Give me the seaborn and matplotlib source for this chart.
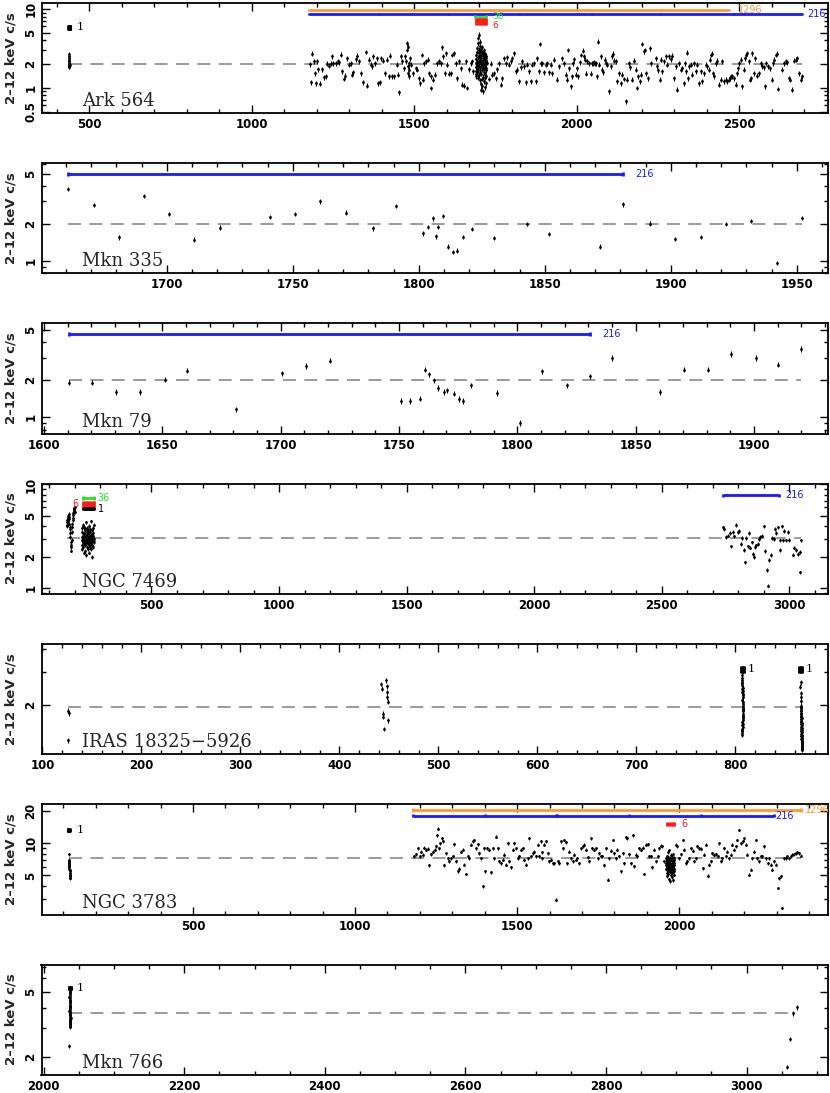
import numpy as np
import matplotlib
matplotlib.use("Agg")
import matplotlib.pyplot as plt
import matplotlib.ticker as mticker
import seaborn as sns

# ---------------------------------------------------------------
# Light-curve values (days, 2-12 keV counts/s)
# ---------------------------------------------------------------

# Ark 564
ark_stack_t = [437.5, 437.7, 437.9, 438.0, 438.2, 438.3, 438.5, 438.6, 438.8, 439.0, 439.1, 439.3]
ark_stack_r = [1.85, 1.90, 1.95, 2.00, 2.08, 2.19, 2.25, 2.38, 2.52, 2.67, 1.88, 1.97]
ark_a_t = [1178, 1182, 1184, 1192, 1194, 1197, 1202, 1204, 1210, 1217,
           1223, 1228, 1233, 1238, 1243, 1248, 1251, 1258, 1264, 1269,
           1274, 1279, 1284, 1286, 1292, 1300, 1305, 1310, 1313, 1320,
           1325, 1330, 1337, 1342, 1351, 1356, 1361, 1366, 1369, 1374,
           1378, 1385, 1389, 1395, 1397, 1405, 1409, 1415, 1423, 1426,
           1433, 1438, 1446, 1450, 1453, 1458, 1464, 1469, 1471, 1474,
           1477, 1479, 1481, 1479.5, 1480, 1484, 1484.5, 1485, 1487, 1489,
           1497, 1505, 1510, 1515, 1518, 1525, 1528, 1530, 1535, 1541,
           1546, 1551, 1553, 1559, 1563, 1571, 1576, 1582, 1587, 1590,
           1594, 1597, 1602, 1607, 1612, 1617, 1623, 1628, 1633, 1638,
           1643, 1648, 1653, 1658, 1664, 1669, 1674, 1679, 1682]
ark_a_r = [1.99, 1.18, 2.70, 2.16, 1.54, 1.15, 2.16, 1.73, 1.13, 1.73,
           1.37, 1.40, 2.02, 1.91, 2.02, 2.50, 2.06, 2.06, 2.16, 2.12,
           2.64, 1.62, 1.30, 1.43, 2.38, 1.96, 2.06, 1.47, 1.57, 2.31,
           2.55, 2.16, 1.54, 1.18, 2.86, 1.07, 2.27, 1.96, 1.87, 2.50,
           2.06, 2.38, 1.15, 1.18, 2.38, 2.22, 1.54, 2.27, 1.40, 2.55,
           1.40, 1.40, 1.96, 1.47, 0.88, 2.50, 2.16, 1.78, 2.50, 2.16,
           3.03, 3.67, 3.33, 1.87, 1.54, 2.06, 1.70, 1.40, 2.38, 1.96,
           1.54, 1.78, 1.70, 1.33, 1.15, 2.62, 1.27, 2.06, 2.16, 2.27,
           1.54, 1.40, 1.00, 1.27, 1.47, 2.06, 2.16, 2.06, 3.27, 2.50,
           1.54, 2.75, 1.96, 1.51, 1.54, 2.62, 2.75, 2.06, 1.33, 2.16,
           1.78, 1.10, 1.07, 2.16, 1.00, 1.73, 2.06, 2.16, 1.62]
ark_clu_t = [1689.2, 1689.6, 1690.0, 1690.4, 1690.9, 1691.3, 1691.7, 1692.1, 1692.6, 1693.0,
             1693.4, 1693.8, 1694.3, 1694.7, 1695.1, 1695.5, 1696.0, 1696.4, 1696.8, 1697.2,
             1697.7, 1698.1, 1698.5, 1698.9, 1699.4, 1699.8, 1700.2, 1700.6, 1701.1, 1701.5,
             1701.9, 1702.3, 1702.8, 1703.2, 1703.6, 1704.0, 1704.5, 1704.9, 1705.3, 1705.7,
             1706.2, 1706.6, 1707.0, 1707.4, 1707.9, 1708.3, 1708.7, 1709.1, 1709.6, 1710.0,
             1710.4, 1710.8, 1711.3, 1711.7, 1712.1, 1712.5, 1713.0, 1713.4, 1713.8, 1714.2,
             1714.7, 1715.1, 1715.5, 1715.9, 1716.4, 1716.8, 1717.2, 1717.6, 1718.1, 1718.5,
             1718.9, 1719.3, 1719.8, 1720.2, 1720.6, 1721.0, 1721.5, 1721.9, 1722.3, 1722.7]
ark_clu_r = [1.62, 2.05, 1.48, 2.31, 1.85, 2.62, 1.40, 1.95, 2.20, 1.72,
             2.85, 1.55, 2.10, 3.20, 1.88, 2.45, 1.35, 3.65, 2.02, 1.68,
             4.30, 2.55, 1.90, 3.05, 1.45, 2.75, 4.70, 2.15, 1.60, 3.40,
             2.38, 1.25, 2.90, 1.78, 3.85, 2.20, 1.12, 2.60, 1.98, 3.10,
             1.50, 2.42, 0.95, 2.12, 1.70, 2.85, 1.30, 3.30, 2.05, 1.05,
             2.50, 1.82, 2.70, 1.38, 2.25, 0.90, 1.95, 2.58, 1.58, 3.00,
             1.22, 2.35, 1.75, 2.80, 1.48, 2.15, 1.02, 2.48, 1.88, 2.65,
             1.35, 2.00, 1.68, 2.40, 1.15, 2.22, 1.80, 2.55, 1.42, 2.08]
ark_b_t = [1730, 1735, 1741, 1746, 1751, 1756, 1761, 1766, 1771, 1776,
           1782, 1787, 1792, 1797, 1802, 1807, 1812, 1817, 1823, 1828,
           1833, 1838, 1843, 1848, 1853, 1858, 1864, 1869, 1874, 1879,
           1884, 1887, 1889, 1894, 1900, 1905, 1910, 1915, 1920, 1925,
           1930, 1941, 1946]
ark_b_r = [1.30, 2.02, 1.47, 1.54, 1.33, 1.73, 2.06, 1.10, 1.33, 2.38,
           2.06, 2.45, 1.96, 2.16, 2.38, 2.75, 1.62, 1.70, 1.21, 1.83,
           2.16, 1.87, 1.18, 1.96, 1.62, 1.21, 1.96, 2.06, 1.21, 2.38,
           1.62, 3.60, 2.06, 2.06, 1.57, 1.96, 2.06, 1.57, 1.96, 1.54,
           2.27, 1.27, 1.87]
ark_c_t = [1956, 1961, 1966, 1971, 1974, 1976, 1982, 1985, 1989, 1992,
           1997, 2002, 2005, 2009, 2012, 2018, 2023, 2026, 2030, 2033,
           2038, 2043, 2046, 2050, 2053, 2056, 2059, 2064, 2067, 2069,
           2074, 2077, 2081, 2087, 2091, 2094, 2100, 2105, 2110, 2112,
           2115, 2120, 2125, 2130, 2135, 2141, 2146, 2151, 2156, 2161,
           2163, 2169, 2176, 2182, 2187, 2190, 2194, 2197, 2202, 2207,
           2210, 2214, 2221, 2225, 2228, 2243, 2248, 2251, 2255, 2259,
           2264, 2269, 2274, 2279, 2284, 2289, 2294, 2300, 2305, 2310,
           2315, 2320, 2325, 2330, 2333, 2337, 2341, 2344, 2346, 2351,
           2356, 2361, 2366, 2371, 2376, 2382, 2387, 2392, 2397, 2402,
           2407, 2409, 2412, 2415, 2420, 2423, 2428, 2433, 2438, 2443,
           2448, 2453, 2459, 2464, 2469, 2471, 2474, 2479, 2484, 2489,
           2494, 2497, 2499, 2505, 2510, 2515, 2518, 2522, 2525, 2530,
           2535, 2538, 2540, 2545, 2548, 2556, 2561, 2566, 2571, 2576,
           2580, 2584, 2590, 2594, 2600, 2604, 2608, 2612, 2617, 2620,
           2633, 2638, 2643, 2648, 2653, 2658, 2664, 2669, 2674, 2679,
           2684, 2689, 2694]
ark_c_r = [2.38, 2.06, 1.47, 1.27, 3.03, 1.78, 1.05, 1.40, 2.06, 2.31,
           1.47, 1.78, 1.40, 2.10, 2.62, 2.97, 2.50, 2.27, 1.51, 2.16,
           2.06, 1.51, 2.06, 2.06, 2.10, 2.02, 2.06, 1.40, 3.86, 1.96,
           2.50, 1.70, 1.57, 2.27, 2.06, 1.96, 0.91, 1.87, 2.50, 2.70,
           2.22, 2.16, 1.21, 1.54, 1.15, 1.47, 1.30, 0.68, 1.27, 2.06,
           1.83, 1.27, 2.22, 1.70, 1.00, 1.40, 1.21, 1.47, 3.60, 2.89,
           3.03, 1.54, 1.33, 3.18, 2.06, 2.38, 1.87, 1.66, 1.27, 2.27,
           1.62, 2.16, 2.50, 1.96, 2.50, 2.31, 2.55, 1.33, 1.87, 0.95,
           2.06, 1.70, 1.78, 1.15, 2.06, 1.62, 2.80, 1.33, 1.87, 1.96,
           1.47, 2.06, 1.62, 1.96, 1.15, 1.62, 1.21, 1.54, 1.96, 1.87,
           1.70, 2.27, 2.62, 2.70, 1.54, 1.40, 2.06, 2.22, 1.10, 1.27,
           2.16, 1.21, 1.27, 1.21, 1.27, 1.33, 1.40, 1.40, 1.33, 1.10,
           1.54, 1.78, 2.06, 2.27, 1.05, 1.70, 2.38, 2.62, 2.75, 2.16,
           1.27, 1.33, 2.75, 1.54, 2.38, 1.43, 1.54, 2.06, 1.87, 1.83,
           1.05, 2.06, 1.87, 1.78, 1.27, 2.06, 2.27, 2.62, 2.70, 0.97,
           1.70, 2.06, 2.16, 2.10, 1.33, 1.27, 0.95, 2.22, 2.27, 2.38,
           1.54, 1.27, 1.40]

# Mkn 335
mkn335_t = [1661, 1671, 1681, 1691, 1701, 1711, 1721, 1741, 1751, 1761,
            1771, 1782, 1791, 1801.5, 1803.6, 1805.7, 1807, 1807.6, 1809.5, 1811.6,
            1813.7, 1815, 1817.6, 1821, 1830, 1843, 1851.7, 1871.8, 1881, 1891.6,
            1901.7, 1912, 1922, 1932, 1942, 1952]
mkn335_r = [3.77, 2.82, 1.55, 3.34, 2.38, 1.49, 1.86, 2.25, 2.38, 3.00,
            2.45, 1.83, 2.75, 1.67, 1.87, 2.20, 1.58, 1.87, 2.30, 1.31,
            1.19, 1.22, 1.56, 1.81, 1.53, 1.99, 1.66, 1.31, 2.85, 2.00,
            1.50, 1.56, 1.99, 2.11, 0.97, 2.23]

# Mkn 79
mkn79_t = [1610.7, 1620.3, 1630.4, 1640.4, 1651.0, 1660.5, 1681.0, 1700.5, 1710.8, 1720.8,
           1751.0, 1754.8, 1758.8, 1761.0, 1762.6, 1764.8, 1766.6, 1768.9, 1770.4, 1773.1,
           1775.5, 1777.1, 1780.5, 1791.5, 1801.0, 1810.6, 1821.0, 1830.7, 1840.0, 1860.4,
           1870.3, 1880.5, 1890.2, 1900.6, 1910.0, 1920.0]
mkn79_r = [1.89, 1.89, 1.59, 1.59, 2.00, 2.36, 1.16, 2.24, 2.56, 2.83,
           1.35, 1.35, 1.41, 2.40, 2.20, 1.97, 1.72, 1.59, 1.64, 1.55,
           1.40, 1.35, 1.80, 1.56, 0.90, 2.33, 1.80, 2.13, 2.97, 1.60,
           2.40, 2.40, 3.20, 2.97, 2.63, 3.50]

# NGC 7469
n7469_a_t = [167, 168, 169, 170, 171, 172, 173, 174, 175, 176,
             177, 178, 179, 180, 181, 182, 183, 184, 185, 186,
             187, 188, 189, 190, 191, 192, 193, 194, 195, 196,
             197, 198, 199, 200]
n7469_a_r = [4.1, 4.3, 4.0, 4.5, 4.8, 4.4, 5.0, 4.7, 5.2, 4.9,
             4.6, 4.2, 3.9, 3.7, 3.4, 3.1, 2.8, 2.6, 2.3, 2.5,
             2.9, 3.5, 3.9, 4.2, 4.5, 4.8, 5.1, 5.3, 5.5, 5.6,
             5.8, 5.9, 6.0, 5.4]
n7469_b_t = [226.0, 226.6, 227.5, 228.1, 228.9, 229.4, 230.2, 231.0, 231.6, 232.2,
             233.1, 233.7, 234.3, 235.2, 235.8, 236.4, 237.3, 237.9, 238.5, 239.4,
             240.0, 240.8, 241.3, 242.2, 242.8, 243.6, 244.1, 245.0, 245.7, 246.2,
             247.1, 247.6, 248.5, 249.0, 249.9, 250.4, 251.3, 251.8, 252.7, 253.2,
             254.1, 254.6, 255.5, 256.0, 256.9, 257.4, 258.3, 258.8, 259.7, 260.2,
             261.1, 261.6, 262.5, 263.0, 263.9, 264.4, 265.3, 265.8, 266.7, 267.2,
             268.1, 268.6, 269.5, 270.0, 270.9, 271.4, 272.3, 272.8, 273.7, 274.2]
n7469_b_r = [3.1, 2.6, 3.5, 2.9, 3.8, 2.4, 3.2, 2.8, 4.1, 3.0,
             2.5, 3.4, 2.7, 3.9, 2.2, 3.3, 2.9, 3.6, 2.6, 3.1,
             2.3, 3.7, 2.8, 3.2, 4.3, 2.7, 3.0, 2.1, 3.5, 2.9,
             3.3, 2.5, 3.8, 2.8, 3.1, 2.4, 3.6, 3.0, 2.7, 4.0,
             2.6, 3.2, 2.9, 3.4, 2.2, 3.7, 2.8, 3.1, 2.5, 3.5,
             3.0, 2.7, 4.4, 2.9, 3.2, 2.4, 3.6, 2.8, 3.3, 2.0,
             3.1, 2.6, 3.8, 2.9, 3.4, 2.5, 3.2, 4.1, 2.8, 3.0]
n7469_c_t = [2739, 2745, 2751, 2758, 2765, 2771, 2778, 2784, 2791, 2797,
             2804, 2810, 2814, 2821, 2826, 2831, 2836, 2843, 2847, 2852,
             2856, 2860, 2865, 2869, 2876, 2882, 2886, 2891, 2899, 2904,
             2910, 2915, 2921, 2928, 2930, 2938, 2943, 2948, 2954, 2961,
             2964, 2970, 2975, 2980, 2987, 2993, 2999, 3013, 3019, 3027,
             3035, 3040, 3041, 3045]
n7469_c_r = [3.86, 3.72, 3.10, 3.22, 3.39, 2.53, 3.47, 3.15, 4.09, 3.47,
             3.55, 2.68, 3.06, 2.32, 1.77, 3.06, 2.53, 3.39, 2.46, 2.76,
             2.15, 2.00, 2.49, 2.58, 2.68, 2.95, 3.10, 3.22, 3.95, 2.28,
             1.49, 1.06, 1.86, 2.08, 3.06, 3.00, 3.72, 3.39, 3.86, 2.89,
             2.35, 3.95, 2.89, 3.55, 2.89, 3.47, 2.93, 2.11, 2.46, 2.32,
             2.15, 1.42, 2.23, 2.89]

# IRAS 18325-5926
iras_a_t = [126.0, 126.3, 126.2, 441.5, 442.5, 443.5, 444.0, 445.0, 447.5, 448.0,
            448.2, 448.5, 448.8, 449.0]
iras_a_r = [1.86, 1.80, 1.29, 2.59, 2.44, 1.79, 1.72, 1.48, 2.71, 2.51,
            2.34, 2.19, 2.08, 1.65]
iras_b_t = [806.6, 806.9, 806.4, 807.1, 806.7, 807.3, 807.0, 807.4, 806.8, 807.5,
            807.2, 807.6, 807.1, 807.7, 807.4, 807.8, 807.5, 807.6, 807.3, 807.7,
            807.4, 807.8, 807.5, 807.2, 807.4, 807.1, 807.3, 807.0, 807.2, 806.9,
            807.1, 806.8, 807.0, 806.7, 806.9]
iras_b_r = [2.88, 2.80, 2.71, 2.62, 2.55, 2.47, 2.44, 2.38, 2.33, 2.29,
            2.25, 2.20, 2.11, 2.06, 2.02, 1.97, 1.93, 1.90, 1.87, 1.84,
            1.79, 1.75, 1.71, 1.69, 1.66, 1.61, 1.58, 1.56, 1.52, 1.48,
            1.46, 1.44, 1.41, 1.38, 2.66]
iras_c_t = [866.0, 865.7, 866.1, 865.8, 866.3, 865.9, 866.4, 866.1, 866.5, 866.2,
            866.6, 866.3, 866.7, 866.4, 866.8, 866.5, 866.7, 866.4, 866.8, 866.5,
            866.9, 866.6, 866.8, 866.5, 866.9, 866.7, 867.0, 866.6, 866.9, 866.7,
            867.0, 866.8, 867.1, 866.7, 867.0, 866.8, 867.1, 866.9, 867.2, 867.0,
            866.8, 867.1, 866.9, 867.2, 867.0]
iras_c_r = [2.65, 2.50, 2.31, 2.20, 2.10, 1.98, 1.95, 1.91, 1.88, 1.84,
            1.81, 1.78, 1.75, 1.72, 1.70, 1.67, 1.64, 1.62, 1.59, 1.57,
            1.55, 1.52, 1.50, 1.48, 1.46, 1.44, 1.42, 1.40, 1.38, 1.36,
            1.35, 1.33, 1.31, 1.30, 1.28, 1.27, 1.25, 1.24, 1.22, 1.21,
            1.19, 1.18, 1.17, 1.16, 1.14]

# NGC 3783
n3783_a_t = [116.5, 116.8, 117.0, 117.3, 117.5, 117.8, 118.0, 118.3, 118.5, 118.8,
             119.0, 119.3, 119.5, 119.8, 120.0, 120.3, 120.5, 120.8, 121.0, 121.3]
n3783_a_r = [7.9, 7.0, 6.8, 6.6, 6.4, 6.7, 6.2, 6.5, 6.3, 6.0,
             6.1, 5.8, 5.6, 5.5, 5.3, 5.1, 5.0, 4.9, 4.75, 4.7]
n3783_b_t = [1183, 1188, 1194, 1199, 1204, 1209, 1214, 1219, 1224, 1229,
             1234, 1240, 1245, 1250, 1253, 1255, 1260, 1263, 1267, 1270,
             1275, 1281, 1286, 1291, 1296, 1301, 1306, 1311, 1317, 1322,
             1327, 1332, 1337, 1342, 1347, 1352, 1358, 1363, 1368, 1373,
             1378, 1383, 1388, 1394, 1399, 1401, 1407, 1414, 1419, 1424,
             1430, 1435, 1440, 1445, 1450, 1455, 1460, 1465, 1471, 1476,
             1481, 1486, 1491, 1496, 1501, 1507, 1512, 1517, 1522, 1527,
             1532, 1537, 1542, 1548, 1553, 1558, 1563, 1568, 1573, 1575,
             1578, 1584, 1589, 1594, 1599, 1604, 1609, 1614, 1620, 1625,
             1630, 1635, 1640, 1645, 1650, 1655, 1661, 1666, 1671, 1676,
             1681, 1686, 1691, 1697, 1702, 1707, 1712, 1717, 1722, 1727,
             1732, 1738, 1743, 1748, 1753, 1758, 1763, 1768, 1774, 1779,
             1784, 1789, 1794, 1799, 1804, 1809, 1815, 1820, 1825, 1830,
             1835, 1840, 1845, 1851, 1856, 1861, 1866, 1871, 1876, 1881,
             1887, 1892, 1897, 1902, 1907, 1912, 1917, 1922, 1928, 1933,
             1938, 1943, 1948, 1953, 1958]
n3783_b_r = [7.51, 7.90, 8.98, 7.51, 8.36, 7.79, 9.11, 8.67, 8.86, 6.19,
             7.90, 8.36, 8.67, 9.31, 11.8, 13.6, 8.98, 10.0, 11.1, 10.4,
             6.19, 8.07, 7.25, 6.75, 7.25, 7.51, 9.79, 6.75, 5.44, 5.77,
             8.36, 8.67, 6.28, 5.15, 7.51, 7.25, 9.65, 10.4, 10.7, 8.98,
             9.79, 8.07, 7.25, 3.95, 8.98, 5.44, 8.98, 8.67, 5.37, 8.98,
             7.25, 11.5, 8.98, 6.75, 6.51, 7.00, 7.79, 6.28, 10.0, 6.75,
             5.93, 8.67, 10.0, 8.98, 7.25, 7.51, 8.67, 8.98, 7.00, 6.28,
             7.25, 11.1, 7.51, 8.07, 8.36, 7.51, 9.65, 7.51, 10.4, 8.24,
             7.25, 9.65, 10.4, 8.07, 6.75, 7.00, 6.51, 6.51, 2.96, 6.75,
             6.51, 10.4, 8.98, 10.7, 10.2, 6.51, 8.36, 7.25, 6.75, 7.79,
             7.00, 7.25, 6.51, 8.98, 9.31, 9.65, 8.67, 7.36, 6.75, 11.1,
             8.98, 8.67, 8.98, 7.25, 8.07, 7.51, 7.51, 6.19, 8.98, 4.55,
             7.25, 8.48, 10.7, 8.07, 7.25, 8.67, 7.51, 5.44, 8.07, 6.51,
             11.3, 11.1, 7.90, 6.51, 11.8, 6.06, 7.79, 7.51, 8.98, 8.67,
             9.11, 5.15, 9.65, 9.79, 7.51, 7.51, 5.93, 8.67, 6.75, 7.51,
             8.98, 9.51, 9.31, 6.75, 6.28]
n3783_clu_t = [1959.2, 1959.6, 1960.1, 1960.5, 1960.9, 1961.4, 1961.8, 1962.2, 1962.7, 1963.1,
               1963.5, 1964.0, 1964.4, 1964.8, 1965.3, 1965.7, 1966.1, 1966.6, 1967.0, 1967.4,
               1967.9, 1968.3, 1968.7, 1969.2, 1969.6, 1970.0, 1970.5, 1970.9, 1971.3, 1971.8,
               1972.2, 1972.6, 1973.1, 1973.5, 1973.9, 1974.4, 1974.8, 1975.2, 1975.7, 1976.1,
               1976.5, 1977.0, 1977.4, 1977.8, 1978.3, 1978.7, 1979.1, 1979.6, 1980.0, 1980.4,
               1980.9, 1981.3, 1981.7, 1982.2, 1982.6, 1983.0, 1983.5, 1983.9, 1984.3, 1984.8]
n3783_clu_r = [6.5, 5.8, 7.2, 6.0, 5.3, 6.8, 7.6, 5.6, 6.2, 4.9,
               7.0, 6.4, 5.5, 8.2, 6.1, 5.2, 6.7, 7.4, 5.9, 4.6,
               6.3, 7.1, 5.7, 6.6, 8.6, 5.4, 6.0, 7.3, 4.4, 6.5,
               5.8, 6.9, 7.8, 5.5, 6.2, 5.0, 7.0, 6.4, 5.6, 4.8,
               6.8, 7.5, 5.9, 6.1, 5.3, 7.2, 6.6, 5.7, 4.5, 6.3,
               7.9, 5.4, 6.0, 6.9, 5.1, 6.5, 7.3, 5.8, 6.2, 5.5]
n3783_c_t = [1989, 1994, 1999, 2005, 2010, 2015, 2020, 2025, 2030, 2036,
             2041, 2046, 2051, 2056, 2061, 2066, 2072, 2077, 2082, 2087,
             2092, 2097, 2102, 2108, 2113, 2118, 2123, 2128, 2133, 2138,
             2143, 2148, 2154, 2159, 2164, 2169, 2174, 2179, 2184, 2190,
             2195, 2200, 2205, 2210, 2215, 2220, 2225, 2231, 2236, 2241,
             2246, 2251, 2256, 2261, 2267, 2272, 2277, 2282, 2287, 2292,
             2297, 2303, 2308, 2313, 2318, 2323, 2328, 2333, 2339, 2344,
             2349, 2354, 2359, 2364, 2369, 2375]
n3783_c_r = [9.65, 9.31, 7.25, 7.90, 10.7, 8.67, 6.51, 6.75, 7.25, 8.98,
             8.48, 6.75, 7.25, 9.31, 8.98, 8.86, 5.85, 7.79, 9.65, 4.96,
             6.28, 6.75, 8.07, 7.79, 7.90, 7.51, 10.0, 6.75, 7.25, 8.98,
             7.51, 8.36, 7.25, 7.79, 9.65, 8.67, 9.31, 10.7, 13.3, 10.0,
             10.4, 11.1, 9.65, 7.79, 5.07, 5.64, 7.25, 8.36, 10.7, 7.25,
             6.75, 7.51, 7.51, 9.31, 7.25, 6.51, 7.25, 6.28, 5.64, 6.75,
             6.28, 3.81, 4.72, 4.89, 2.48, 7.25, 7.25, 7.51, 7.25, 7.51,
             7.79, 7.90, 8.07, 8.24, 8.07, 7.67]

# Mkn 766
mkn766_t = [2037.6, 2037.3, 2037.8, 2037.5, 2037.2, 2037.0, 2036.8, 2037.1, 2037.4, 2037.7,
            2038.0, 2038.2, 2038.0, 2037.7, 2037.4, 2037.1, 2036.9, 2036.7, 2036.9, 2037.2,
            2037.5, 2037.8, 2038.1, 2038.3, 2038.1, 2037.8, 2037.5, 2037.2, 2037.0, 2037.3,
            2037.6, 2037.9, 2038.1, 2037.8, 2036.3, 3058.0, 3061.5, 3065.5, 3071.0]
mkn766_r = [5.15, 5.05, 4.97, 4.88, 4.80, 4.71, 4.62, 4.55, 4.47, 4.39,
            4.31, 4.24, 4.16, 4.09, 4.01, 3.95, 3.88, 3.82, 3.75, 3.70,
            3.64, 3.58, 3.52, 3.47, 3.42, 3.37, 3.32, 3.27, 3.22, 3.18,
            3.14, 3.10, 3.06, 3.60, 2.34, 1.74, 2.57, 3.68, 4.01]

# mean levels (level, first day, last day)
ark_mean = [2.0, 438, 2694]
mkn335_mean = [2.0, 1661, 1952]
mkn79_mean = [2.0, 1610.7, 1920]
n7469_mean = [3.08, 167, 3045]
iras_mean = [1.94, 126, 867]
n3783_mean = [7.25, 116.5, 2375]
mkn766_mean = [3.73, 2036, 3065]

# timescale markers: segment edges (days) and rate level
ark_1296_edges = [1176, 2469]
ark_216_edges = [1176, 1392, 1607, 1826, 2043, 2261, 2482, 2694]
ark_36_edges = [1688, 1721]
ark_6_edges = [1689, 1695, 1701, 1707, 1713, 1719, 1722]
ark_1_edges = [436, 437, 438, 439, 440, 441, 442]
mkn335_216_edges = [1661, 1881]
mkn79_216_edges = [1610.7, 1830.7]
n7469_216_edges = [2739, 2957]
n7469_36_edges = [233, 276]
n7469_6_edges = [233, 239, 245, 251, 257, 263, 269, 275]
n7469_1_edges = [233, 236, 240, 244, 248, 252, 256, 260, 264, 268, 272, 275]
iras_1a_edges = [805.5, 806.5, 807.5, 808.5]
iras_1b_edges = [864.5, 865.5, 866.5, 867.5]
n3783_1296_edges = [1180, 2376]
n3783_216_edges = [1180, 1402, 1619, 1624, 1846, 2067, 2291]
n3783_6_edges = [1961, 1967, 1973, 1979, 1983]
n3783_1_edges = [114, 115, 116, 117, 118, 119, 120]
mkn766_1_edges = [2035.5, 2036.5, 2037.5, 2038.5, 2039.5]

ORANGE = "#ff9a2e"
BLUE = "#1a1aff"
GREEN = "#22e622"
RED = "#ff1a1a"

# log-axis tick positions: labelled at 1-2-5, unlabelled in between
LOG_MAJOR = [0.5, 1, 2, 5, 10, 20, 50]
LOG_MINOR = [0.3, 0.4, 0.6, 0.7, 0.8, 0.9, 3, 4, 6, 7, 8, 9, 30, 40]

sns.set_style("ticks")
plt.rcParams["font.family"] = ["DejaVu Sans"]
plt.rcParams["font.weight"] = "bold"

W, H = 830.0, 1093.0
fig = plt.figure(figsize=(W / 100, H / 100), dpi=100)


def make_panel(k, xlim, ylim, xmaj, xmin):
    top = 2.7 + 160.3 * k
    ax = fig.add_axes([41.5 / W, 1 - (top + 110.5) / H, 786 / W, 110.5 / H])
    ax.set_xlim(*xlim)
    ax.set_yscale("log")
    ax.set_ylim(*ylim)
    ax.xaxis.set_major_locator(mticker.MultipleLocator(xmaj))
    ax.xaxis.set_minor_locator(mticker.MultipleLocator(xmin))
    ax.yaxis.set_major_locator(mticker.FixedLocator(LOG_MAJOR))
    ax.yaxis.set_minor_locator(mticker.FixedLocator(LOG_MINOR))
    ax.yaxis.set_major_formatter(mticker.FuncFormatter(lambda v, p: f"{v:g}"))
    ax.yaxis.set_minor_formatter(mticker.NullFormatter())
    ax.tick_params(which="both", direction="in", top=True, right=True, width=1.0, colors="black")
    ax.tick_params(which="major", length=5.5)
    ax.tick_params(which="minor", length=2.8)
    ax.tick_params(axis="x", labelsize=8.5, pad=3.5)
    ax.tick_params(axis="y", labelsize=8.5, pad=3, labelrotation=90)
    plt.setp(ax.get_yticklabels(), va="center")
    for s in ax.spines.values():
        s.set_visible(True)
        s.set_linewidth(1.3)
        s.set_color("black")
    fig.text(11 / W, 1 - (top + 55) / H, "2\u201312 keV c/s", rotation=90,
             ha="center", va="center", fontsize=9.5, fontweight="bold")
    return ax


def draw_curve(ax, t, r, frac):
    t = np.asarray(t, dtype=float)
    r = np.asarray(r, dtype=float)
    ax.errorbar(t, r, yerr=r * frac, fmt="none", ecolor="black", elinewidth=0.8,
                capsize=0, zorder=3)
    sns.scatterplot(x=t, y=r, ax=ax, color="black", s=4, linewidth=0, zorder=4,
                    legend=False)


def draw_mean(ax, mean):
    ax.hlines(mean[0], mean[1], mean[2], colors="#808080", linewidth=1.1,
              linestyles=(0, (8.5, 5.5)), zorder=2)


def draw_scale(ax, edges, level, color, half, lw=2.0):
    ax.hlines(level, edges[0], edges[-1], colors=color, linewidth=lw, zorder=5)
    ax.vlines(edges, level / half, level * half, colors=color, linewidth=lw, zorder=5)


def tag(ax, x, y, s, color, serif=False, size=7):
    ax.text(x, y, s, color=color, fontsize=size, va="center", ha="left",
            fontweight="normal", family="DejaVu Serif" if serif else "DejaVu Sans",
            zorder=6)


def name(ax, s):
    ax.text(0.052, 0.065, s, transform=ax.transAxes, fontsize=13,
            family="DejaVu Serif", fontweight="normal", va="baseline", ha="left")


# ---- Ark 564 ----
ax = make_panel(0, (353, 2772), (0.477, 12.0), 500, 100)
draw_mean(ax, ark_mean)
for t, r in [(ark_stack_t, ark_stack_r), (ark_a_t, ark_a_r), (ark_clu_t, ark_clu_r),
             (ark_b_t, ark_b_r), (ark_c_t, ark_c_r)]:
    draw_curve(ax, t, r, 0.07)
draw_scale(ax, ark_1296_edges, 9.7, ORANGE, 1.04)
draw_scale(ax, ark_216_edges, 8.65, BLUE, 1.04)
draw_scale(ax, ark_36_edges, 8.0, GREEN, 1.05)
draw_scale(ax, ark_6_edges, 6.93, RED, 1.10)
draw_scale(ax, ark_1_edges, 5.83, "black", 1.08)
tag(ax, 2497, 9.7, "1296", ORANGE)
tag(ax, 2709, 8.65, "216", BLUE)
tag(ax, 1741, 8.0, "36", GREEN, size=6.5)
tag(ax, 1741, 6.1, "6", RED, size=6.5)
tag(ax, 462, 5.85, "1", "black", serif=True, size=8)
name(ax, "Ark 564")

# ---- Mkn 335 ----
ax = make_panel(1, (1650.3, 1962.2), (0.80, 6.08), 50, 10)
draw_mean(ax, mkn335_mean)
draw_curve(ax, mkn335_t, mkn335_r, 0.04)
draw_scale(ax, mkn335_216_edges, 4.95, BLUE, 1.04)
tag(ax, 1886, 4.95, "216", BLUE)
name(ax, "Mkn 335")

# ---- Mkn 79 ----
ax = make_panel(2, (1599, 1931), (0.74, 5.62), 50, 10)
draw_mean(ax, mkn79_mean)
draw_curve(ax, mkn79_t, mkn79_r, 0.05)
draw_scale(ax, mkn79_216_edges, 4.64, BLUE, 1.04)
tag(ax, 1836, 4.64, "216", BLUE)
name(ax, "Mkn 79")

# ---- NGC 7469 ----
ax = make_panel(3, (69, 3149), (0.876, 10.2), 500, 100)
draw_mean(ax, n7469_mean)
for t, r in [(n7469_a_t, n7469_a_r), (n7469_b_t, n7469_b_r), (n7469_c_t, n7469_c_r)]:
    draw_curve(ax, t, r, 0.04)
draw_scale(ax, n7469_216_edges, 7.85, BLUE, 1.04)
draw_scale(ax, n7469_36_edges, 7.39, GREEN, 1.04)
draw_scale(ax, n7469_6_edges, 6.47, RED, 1.068)
draw_scale(ax, n7469_1_edges, 5.84, "black", 1.037)
tag(ax, 2984, 7.85, "216", BLUE)
tag(ax, 287, 7.39, "36", GREEN)
tag(ax, 292, 5.8, "1", "black")
tag(ax, 190, 6.47, "6", RED)
name(ax, "NGC 7469")

# ---- IRAS 18325-5926 ----
ax = make_panel(4, (99, 893), (1.08, 4.26), 100, 20)
draw_mean(ax, iras_mean)
for t, r in [(iras_a_t, iras_a_r), (iras_b_t, iras_b_r), (iras_c_t, iras_c_r)]:
    draw_curve(ax, t, r, 0.03)
draw_scale(ax, iras_1a_edges, 3.1, "black", 1.05)
draw_scale(ax, iras_1b_edges, 3.1, "black", 1.05)
tag(ax, 812, 3.1, "1", "black", serif=True, size=8)
tag(ax, 871, 3.1, "1", "black", serif=True, size=8)
name(ax, "IRAS 18325\u22125926")

# ---- NGC 3783 ----
ax = make_panel(5, (33, 2457), (2.15, 23.1), 500, 100)
draw_mean(ax, n3783_mean)
for t, r in [(n3783_a_t, n3783_a_r), (n3783_b_t, n3783_b_r), (n3783_clu_t, n3783_clu_r),
             (n3783_c_t, n3783_c_r)]:
    draw_curve(ax, t, r, 0.03)
draw_scale(ax, n3783_1296_edges, 20.4, ORANGE, 1.035)
draw_scale(ax, n3783_216_edges, 18.1, BLUE, 1.035)
draw_scale(ax, n3783_6_edges, 15.0, RED, 1.045)
draw_scale(ax, n3783_1_edges, 13.2, "black", 1.045)
tag(ax, 2387, 20.4, "1296", ORANGE)
tag(ax, 2297, 18.1, "216", BLUE)
tag(ax, 2005, 15.0, "6", RED)
tag(ax, 140, 13.2, "1", "black", serif=True, size=8)
name(ax, "NGC 3783")

# ---- Mkn 766 ----
ax = make_panel(6, (1997, 3115), (1.56, 7.29), 200, 50)
draw_mean(ax, mkn766_mean)
draw_curve(ax, mkn766_t, mkn766_r, 0.03)
draw_scale(ax, mkn766_1_edges, 5.25, "black", 1.03)
tag(ax, 2047, 5.25, "1", "black", serif=True, size=8)
name(ax, "Mkn 766")

fig.savefig("out.png", dpi=100)
